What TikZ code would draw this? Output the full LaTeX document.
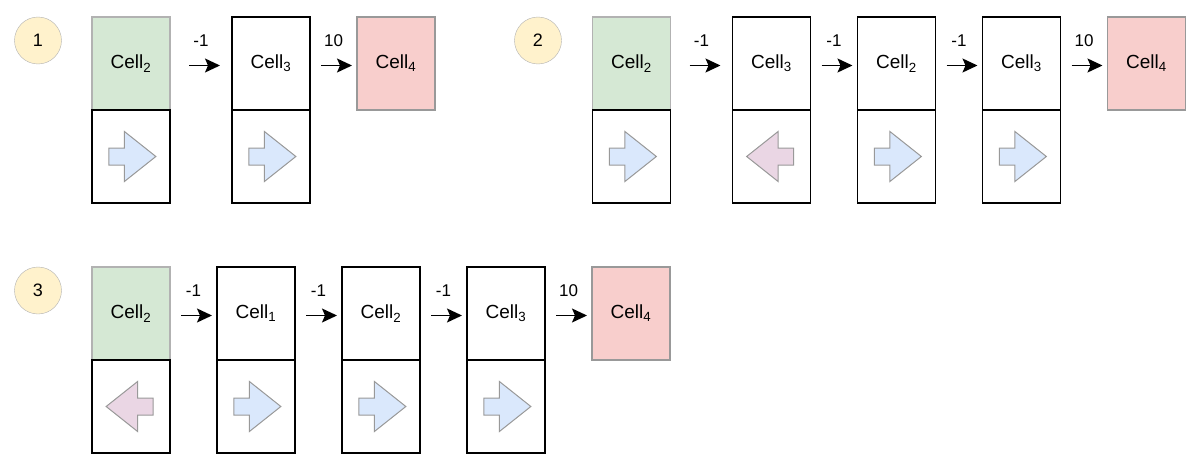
\documentclass[tikz,border=0pt]{standalone}
\usepackage{fontspec}
\setmainfont{Liberation Sans}
\usetikzlibrary{positioning}
\usetikzlibrary{shapes.arrows}
\usetikzlibrary{arrows.meta}
\definecolor{startfill}{HTML}{D5E8D4}
\definecolor{goalfill}{HTML}{F8CECC}
\definecolor{numfill}{HTML}{FFF2CC}
\definecolor{rightfill}{HTML}{DAE8FC}
\definecolor{leftfill}{HTML}{EAD6E4}

\begin{document}
\begin{tikzpicture}[x=1pt,y=-1pt,
    cell/.style={draw,line width=1.2pt,minimum width=78pt,minimum height=93pt,inner sep=0pt,outer sep=0pt,font=\fontsize{19}{22}\selectfont},
    start/.style={cell,draw=black!30,fill=startfill},
    goal/.style={cell,draw=black!40,fill=goalfill},
    num/.style={circle,draw=black!30,fill=numfill,minimum size=47pt,inner sep=0pt,font=\fontsize{18}{21}\selectfont},
    go/.style={-{Stealth[length=15pt,width=14pt,inset=3pt]},line width=1.3pt,shorten <=11pt,shorten >=5pt},
    far/.style={go,shorten <=19pt,shorten >=12pt},
    reward/.style={above=17pt,inner sep=1pt,font=\fontsize{17}{20}\selectfont},
    arrowbase/.style={single arrow,draw=black!40,line width=1pt,minimum height=47pt,inner sep=8pt,single arrow head extend=16.5pt,single arrow tip angle=77},
    dirright/.style={arrowbase,fill=rightfill,xshift=-4pt},
    dirleft/.style={arrowbase,fill=leftfill,shape border rotate=180,xshift=4pt}]
  \useasboundingbox (0,0) rectangle (1195,463);

  \node[num] (n1) at (38,40.5) {1};
  \node[start] (a1) at (131,63.5) {Cell\textsubscript{2}};
  \node[cell,right=62pt of a1] (a2) {Cell\textsubscript{3}};
  \node[goal,right=47pt of a2] (a3) {Cell\textsubscript{4}};
  \node[cell,below=0pt of a1] (da1) {};
  \node[cell,below=0pt of a2] (da2) {};
  \node[dirright] (ra1) at (da1) {};
  \node[dirright] (ra2) at (da2) {};
  \draw[far] ([yshift=-2pt]a1.east) -- ([yshift=-2pt]a2.west) node[midway,reward] {-1};
  \draw[go] ([yshift=-2pt]a2.east) -- ([yshift=-2pt]a3.west) node[midway,reward] {10};

  \node[num] (n2) at (538,40.5) {2};
  \node[start] (b1) at (631.5,63.5) {Cell\textsubscript{2}};
  \node[cell,right=62pt of b1] (b2) {Cell\textsubscript{3}};
  \node[cell,right=47pt of b2] (b3) {Cell\textsubscript{2}};
  \node[cell,right=47pt of b3] (b4) {Cell\textsubscript{3}};
  \node[goal,right=47pt of b4] (b5) {Cell\textsubscript{4}};
  \foreach \i in {1,...,4} {
    \node[cell,below=0pt of b\i] (db\i) {};
  }
  \node[dirright] (rb1) at (db1) {};
  \node[dirleft] (rb2) at (db2) {};
  \node[dirright] (rb3) at (db3) {};
  \node[dirright] (rb4) at (db4) {};
  \draw[far] ([yshift=-2pt]b1.east) -- ([yshift=-2pt]b2.west) node[midway,reward] {-1};
  \draw[go] ([yshift=-2pt]b2.east) -- ([yshift=-2pt]b3.west) node[midway,reward] {-1};
  \draw[go] ([yshift=-2pt]b3.east) -- ([yshift=-2pt]b4.west) node[midway,reward] {-1};
  \draw[go] ([yshift=-2pt]b4.east) -- ([yshift=-2pt]b5.west) node[midway,reward] {10};

  \node[num] (n3) at (38,290.5) {3};
  \node[start] (c1) at (131,313.5) {Cell\textsubscript{2}};
  \node[cell,right=47pt of c1] (c2) {Cell\textsubscript{1}};
  \node[cell,right=47pt of c2] (c3) {Cell\textsubscript{2}};
  \node[cell,right=47pt of c3] (c4) {Cell\textsubscript{3}};
  \node[goal,right=47pt of c4] (c5) {Cell\textsubscript{4}};
  \foreach \i in {1,...,4} {
    \node[cell,below=0pt of c\i] (dc\i) {};
  }
  \node[dirleft] (rc1) at (dc1) {};
  \node[dirright] (rc2) at (dc2) {};
  \node[dirright] (rc3) at (dc3) {};
  \node[dirright] (rc4) at (dc4) {};
  \draw[go] ([yshift=-2pt]c1.east) -- ([yshift=-2pt]c2.west) node[midway,reward] {-1};
  \draw[go] ([yshift=-2pt]c2.east) -- ([yshift=-2pt]c3.west) node[midway,reward] {-1};
  \draw[go] ([yshift=-2pt]c3.east) -- ([yshift=-2pt]c4.west) node[midway,reward] {-1};
  \draw[go] ([yshift=-2pt]c4.east) -- ([yshift=-2pt]c5.west) node[midway,reward] {10};
\end{tikzpicture}
\end{document}
